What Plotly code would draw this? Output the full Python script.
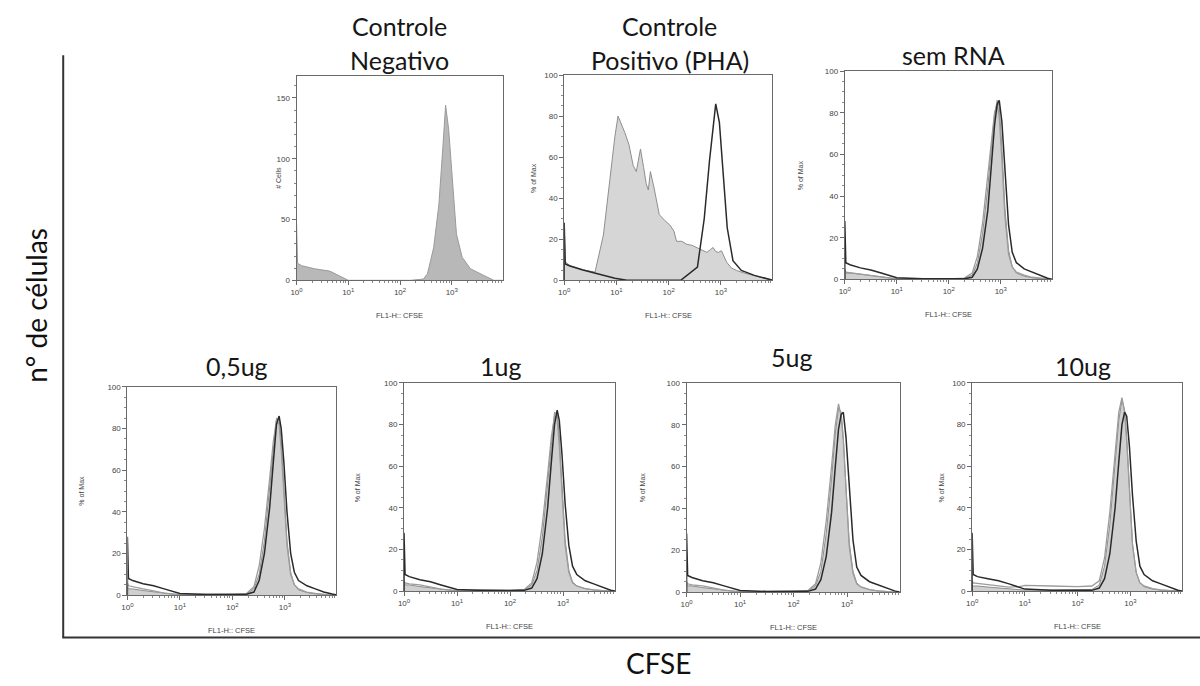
import plotly.graph_objects as go

W, H = 1200, 686

# ---------------------------------------------------------------------------
# Histogram data: x given as decade exponents of FL1-H (CFSE), y as counts
# (# Cells) or percent of max.
# ---------------------------------------------------------------------------

# Controle Negativo (# Cells)
neg_dec = [0, 0, 0.02, 0.1, 0.35, 0.64, 0.86, 1.0, 1.5, 2.2, 2.45, 2.53, 2.65,
           2.75, 2.83, 2.88, 2.94, 3.01, 3.09, 3.2, 3.36, 3.62, 3.81, 4.0]
neg_cells = [0, 47, 14, 12, 9.5, 7.6, 3, 0, 0, 0, 1, 5.4, 27,
             62, 111, 144, 124, 84, 38, 19, 9.5, 4, 0, 0]

# Controle Positivo (PHA): stimulated (filled) and unstimulated (line)
pha_dec = [0, 0, 0.02, 0.11, 0.36, 0.59, 0.75, 0.87, 0.97, 1.03, 1.08, 1.16,
           1.24, 1.32, 1.38, 1.46, 1.52, 1.57, 1.61, 1.65, 1.72, 1.82, 1.93,
           2.02, 2.1, 2.15, 2.25, 2.34, 2.45, 2.6, 2.73, 2.8, 2.85, 2.9, 2.95,
           3.01, 3.05, 3.11, 3.2, 3.3, 3.45, 3.62, 3.8, 3.97, 4.0]
pha_stim = [0, 28, 9, 7.2, 5.1, 4.0, 22, 50, 70, 80, 77, 72,
            66, 56, 53, 64, 55, 47, 44, 53, 45, 32, 29,
            27, 24, 19, 19, 17.6, 17, 15.2, 13.6, 15, 16, 14, 13.6,
            14.4, 12, 8.8, 6, 4.8, 3.5, 2.4, 1.2, 0, 0]

pha_ctrl_dec = [0, 0, 0.02, 0.11, 0.36, 0.6, 0.97, 1.2, 2.23, 2.55, 2.68, 2.78,
                2.86, 2.9, 2.97, 3.03, 3.12, 3.23, 3.39, 3.64, 3.95, 4.0]
pha_ctrl = [0, 28, 8, 7, 5, 3.5, 1, 0, 0, 6.4, 30, 58,
            78.5, 86, 77, 54.5, 25.6, 9.6, 4.8, 2.4, 0, 0]

# sem RNA panel: exponent grid and its three histograms
sem_dec = [0, 0, 0.02, 0.1, 0.3, 0.5, 0.7, 0.9, 1.0, 1.5, 2.0, 2.3, 2.45,
           2.55, 2.65, 2.75, 2.82, 2.88, 2.93, 2.97, 3.02, 3.08, 3.15, 3.22,
           3.3, 3.45, 3.6, 3.75, 3.9, 4.0]
sem_dark = [0, 28, 8, 7, 5.5, 4.5, 3, 1.5, 0.8, 0.3, 0.2, 0.3, 1,
            5, 15, 33, 55, 74, 84, 86, 76, 52, 26, 13, 8, 5, 3.5, 2, 0.5, 0]
sem_light = [0, 5, 3.5, 3.2, 2.5, 2, 1, 0.5, 0.3, 0.2, 0.2, 0.6, 3,
             11, 27, 50, 68, 80, 84, 78, 58, 30, 12, 6, 3.5, 2, 1, 0.5, 0, 0]
sem_fill = [0, 4, 3, 3, 2.5, 1.8, 1, 0.5, 0.3, 0.2, 0.2, 0.4, 2,
            8, 22, 44, 64, 79, 86, 83, 64, 34, 14, 6, 3, 1.5, 0.8, 0.3, 0, 0]

# RNA dose panels share one exponent grid
dose_dec = [0, 0, 0.02, 0.1, 0.3, 0.5, 0.7, 0.9, 1.0, 1.5, 2.0, 2.27, 2.41,
            2.51, 2.61, 2.71, 2.78, 2.84, 2.89, 2.93, 2.98, 3.04, 3.11, 3.18,
            3.26, 3.42, 3.58, 3.74, 3.9, 4.0]

ug05_dark = [0, 28, 8, 7, 5.5, 4.5, 3, 1.5, 0.8, 0.3, 0.3, 0.4, 1.5,
             7, 20, 42, 64, 82, 86, 80, 64, 40, 20, 11, 7, 4.5, 3, 1.5, 0.5, 0]
ug05_light = [0, 6, 4.5, 4, 3, 2, 1, 0.5, 0.3, 0.3, 0.3, 0.8, 4,
              14, 32, 56, 74, 84, 82, 70, 48, 24, 10, 5, 3, 1.5, 0.8, 0.3, 0, 0]
ug05_fill = [0, 4, 3, 3, 2.2, 1.5, 0.8, 0.4, 0.3, 0.3, 0.3, 0.6, 3,
             10, 26, 50, 70, 85, 84, 74, 52, 26, 11, 5, 2.5, 1.2, 0.6, 0.2, 0, 0]

ug1_dark = [0, 28, 8, 7, 5.5, 4.5, 3, 1.5, 0.8, 0.3, 0.3, 0.4, 1.5,
            6, 18, 40, 62, 80, 87, 82, 66, 42, 22, 12, 8, 5, 3.5, 2, 0.5, 0]
ug1_light = [0, 5, 4, 3.5, 3, 2, 1, 0.5, 0.4, 0.8, 0.4, 0.8, 4,
             14, 32, 56, 74, 84, 83, 70, 46, 22, 9, 4, 2.5, 1.2, 0.6, 0.2, 0, 0]
ug1_fill = [0, 4, 3, 3, 2.2, 1.5, 0.8, 0.4, 0.3, 0.5, 0.3, 0.6, 3,
            10, 26, 50, 70, 86, 85, 74, 50, 25, 10, 4.5, 2.5, 1.2, 0.6, 0.2, 0, 0]

ug5_dark = [0, 28, 8, 7, 5.5, 4.5, 3, 1.5, 0.8, 0.3, 0.3, 0.4, 1.5,
            6, 17, 38, 60, 78, 85, 86, 74, 50, 25, 12, 8, 5, 3.5, 2, 0.5, 0]
ug5_light = [0, 5, 4, 3.5, 3, 2, 1, 0.5, 0.4, 0.3, 0.3, 0.8, 4,
             14, 34, 60, 80, 90, 84, 72, 48, 22, 9, 4, 2.5, 1.2, 0.6, 0.2, 0, 0]
ug5_fill = [0, 4, 3, 3, 2.2, 1.5, 0.8, 0.4, 0.3, 0.3, 0.3, 0.6, 3,
            10, 28, 54, 76, 88, 86, 74, 50, 24, 10, 4.5, 2.5, 1.2, 0.6, 0.2, 0, 0]

ug10_dark = [0, 28, 8, 7, 6, 5, 3.5, 2, 1, 0.4, 0.3, 0.4, 1.5,
             6, 18, 40, 62, 80, 86, 84, 70, 46, 24, 12, 8, 5, 3.5, 2, 0.5, 0]
ug10_light = [0, 5, 4, 3.8, 3, 2.5, 2, 2.2, 2.8, 2.5, 2.2, 2.5, 5,
              16, 38, 66, 86, 93, 86, 72, 46, 22, 9, 4, 2.5, 1.2, 0.6, 0.2, 0, 0]
ug10_fill = [0, 3, 2.5, 2.5, 2, 1.5, 1, 0.6, 0.5, 0.5, 0.5, 0.8, 3,
             12, 32, 60, 82, 92, 87, 74, 48, 23, 9, 4, 2.2, 1, 0.5, 0.2, 0, 0]

# tick labels (decade labels with a raised, smaller exponent)
x_tick_vals = [1, 10, 100, 1000]
x_exponents = ["0", "1", "2", "3"]
x_tick_text = ['10<span style="font-size:6px;baseline-shift:super">%s</span>' % e
               for e in x_exponents]
pct_ticks = [0, 20, 40, 60, 80, 100]
cell_ticks = [0, 50, 100, 150]

titles = {
    "neg": ["Controle", "Negativo"],
    "pha": ["Controle", "Positivo (PHA)"],
    "sem": ["sem RNA"],
    "u05": ["0,5ug"],
    "u1": ["1ug"],
    "u5": ["5ug"],
    "u10": ["10ug"],
}

# ---------------------------------------------------------------------------
# Layout geometry (pixels)
# ---------------------------------------------------------------------------
panels = [
    # key, left, top, right, bottom, y-title, y-title offset, y max, title y
    ("neg", 292, 73, 499, 280, "# Cells", 18, 168, [22, 57]),
    ("pha", 561, 72, 770, 280, "% of Max", 31, 100, [22, 57]),
    ("sem", 843, 68, 1051, 279, "% of Max", 45, 100, [52]),
    ("u05", 122, 388, 332, 599, "% of Max", 47, 100, [367]),
    ("u1", 400, 384, 612, 595, "% of Max", 47, 100, [367]),
    ("u5", 684, 384, 898, 596, "% of Max", 44, 100, [358]),
    ("u10", 971, 384, 1182, 595, "% of Max", 31, 100, [367]),
]
title_cx = {"neg": 395, "pha": 667, "sem": 952, "u05": 232, "u1": 497,
            "u5": 789, "u10": 1082}


def px(x):
    return x / W


def py(y):
    return 1 - y / H


def expo(vals):
    return [10 ** v for v in vals]


FILL = "#d0d0d0"
FILL_EDGE = "#8e8e8e"
LIGHT = "#9c9c9c"
DARK = "#2a2a2a"

fig = go.Figure()


def add(idx, dec, y, color, width, fill=None, fillcolor=None):
    suffix = "" if idx == 1 else str(idx)
    fig.add_trace(go.Scatter(
        x=expo(dec), y=y, mode="lines",
        line=dict(color=color, width=width, shape="linear"),
        fill=fill, fillcolor=fillcolor,
        xaxis="x" + suffix, yaxis="y" + suffix,
        showlegend=False, hoverinfo="skip"))


# panel 1: negative control
add(1, neg_dec, neg_cells, "#9a9a9a", 1, "tozeroy", "#b8b8b8")
# panel 2: PHA
add(2, pha_dec, pha_stim, FILL_EDGE, 1, "tozeroy", "#d6d6d6")
add(2, pha_ctrl_dec, pha_ctrl, DARK, 1.5)
# resting panels
rest_sets = [
    (3, sem_dec, sem_fill, sem_light, sem_dark),
    (4, dose_dec, ug05_fill, ug05_light, ug05_dark),
    (5, dose_dec, ug1_fill, ug1_light, ug1_dark),
    (6, dose_dec, ug5_fill, ug5_light, ug5_dark),
    (7, dose_dec, ug10_fill, ug10_light, ug10_dark),
]
for idx, dec, f, l, d in rest_sets:
    add(idx, dec, f, FILL_EDGE, 1, "tozeroy", FILL)
    add(idx, dec, l, LIGHT, 1.3)
    add(idx, dec, d, DARK, 1.5)

minor_x = [m * 10 ** k for k in range(4) for m in range(2, 10)]
tick_font = dict(family="Liberation Sans, Arial, sans-serif", size=8, color="#444")
annotations = []
layout_axes = {}

for i, (key, l, t, r, b, ytitle, yoff, ymax, ty) in enumerate(panels, start=1):
    suffix = "" if i == 1 else str(i)
    layout_axes["xaxis" + suffix] = dict(
        domain=[px(l), px(r)], anchor="y" + suffix, type="log", range=[0, 3.98],
        tickvals=x_tick_vals, ticktext=x_tick_text, tickfont=tick_font,
        showline=True, mirror=True, linecolor="#6a6a6a", linewidth=1,
        ticks="outside", ticklen=4, tickcolor="#6a6a6a",
        minor=dict(tickvals=minor_x, ticks="outside", ticklen=2, tickcolor="#8a8a8a"),
        showgrid=False, zeroline=False, fixedrange=True)
    layout_axes["yaxis" + suffix] = dict(
        domain=[py(b), py(t)], anchor="x" + suffix, range=[0, ymax],
        tickvals=cell_ticks if key == "neg" else pct_ticks, tickfont=tick_font,
        showline=True, mirror=True, linecolor="#6a6a6a", linewidth=1,
        ticks="outside", ticklen=4, tickcolor="#6a6a6a",
        minor=dict(dtick=10 if key == "neg" else 5, ticks="outside", ticklen=2,
                   tickcolor="#8a8a8a"),
        showgrid=False, zeroline=False, fixedrange=True)
    # x-axis title
    annotations.append(dict(
        text="FL1-H:: CFSE", x=px((l + r) / 2), y=py(b + 36), xref="paper", yref="paper",
        showarrow=False, font=dict(family="Liberation Sans, Arial, sans-serif", size=7.5, color="#444"),
        xanchor="center", yanchor="middle"))
    # y-axis title
    annotations.append(dict(
        text=ytitle, x=px(l - yoff), y=py((t + b) / 2), xref="paper", yref="paper",
        showarrow=False, textangle=-90,
        font=dict(family="Liberation Sans, Arial, sans-serif", size=7, color="#444"),
        xanchor="center", yanchor="middle"))
    # panel title lines
    for line_text, yy in zip(titles[key], ty):
        annotations.append(dict(
            text=line_text, x=px(title_cx[key]), y=py(yy), xref="paper", yref="paper",
            showarrow=False, font=dict(family="Lato, Open Sans, sans-serif", size=25, color="#161616"),
            xanchor="center", yanchor="middle"))

# overall axis labels
annotations.append(dict(
    text="n° de células", x=px(30), y=py(305), xref="paper", yref="paper",
    showarrow=False, textangle=-90,
    font=dict(family="Lato, Open Sans, sans-serif", size=28, color="#111"),
    xanchor="center", yanchor="middle"))
annotations.append(dict(
    text="CFSE", x=px(656), y=py(668), xref="paper", yref="paper",
    showarrow=False, font=dict(family="Lato, Open Sans, sans-serif", size=28, color="#111"),
    xanchor="center", yanchor="middle"))

shapes = [
    dict(type="line", xref="paper", yref="paper", x0=px(57.5), x1=px(57.5),
         y0=py(52), y1=py(642), line=dict(color="#333", width=2)),
    dict(type="line", xref="paper", yref="paper", x0=px(56.5), x1=px(1200),
         y0=py(642), y1=py(642), line=dict(color="#333", width=2)),
]

fig.update_layout(
    width=W, height=H, margin=dict(l=0, r=0, t=0, b=0),
    paper_bgcolor="white", plot_bgcolor="white",
    annotations=annotations, shapes=shapes, **layout_axes)

fig.write_html("out.html")
